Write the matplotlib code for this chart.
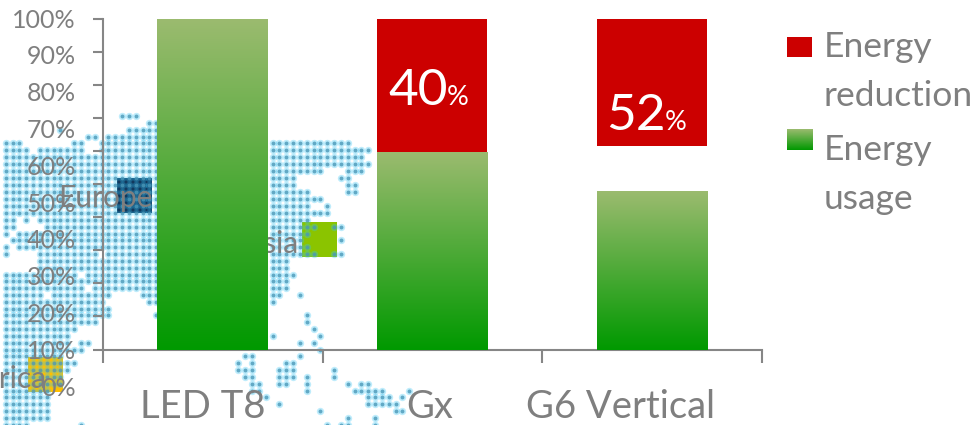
import numpy as np
import matplotlib
matplotlib.use("Agg")
import matplotlib.pyplot as plt
from matplotlib.patches import Rectangle
from matplotlib.colors import LinearSegmentedColormap
from matplotlib.transforms import ScaledTranslation

plt.rcParams['font.family'] = ['Lato', 'DejaVu Sans']

# ---- chart data ----
categories = ["LED T8", "Gx", "G6 Vertical"]
energy_usage = [100, 59.8, 48]
blank_gap = [0, 0, 13.6]
energy_reduction = [0, 40.2, 38.4]
reduction_labels = ["", "40", "52"]
y_ticks = [0, 10, 20, 30, 40, 50, 60, 70, 80, 90, 100]
y_tick_labels = [f"{v}%" for v in y_ticks]
legend_labels = ["Energy\nreduction", "Energy\nusage"]

GREY = "#7F7F7F"
AXIS = "#868686"
RED = "#CC0000"
W, H = 973, 425

# ---- decorative dot map behind the chart: pixel row -> covered x spans ----
map_rows = {
    116: [(120, 137)], 123: [(148, 157)], 130: [(58, 62), (127, 157)],
    137: [(87, 97), (107, 157)],
    143: [(0, 22), (73, 83), (97, 157), (272, 348)],
    150: [(0, 27), (38, 83), (97, 157), (272, 368)],
    157: [(0, 157), (272, 362)], 164: [(0, 157), (272, 372)],
    171: [(0, 157), (272, 322), (345, 362)],
    178: [(0, 157), (272, 295), (338, 350)],
    185: [(0, 157), (272, 295), (345, 355)],
    192: [(0, 157), (272, 308), (345, 355)],
    199: [(0, 157), (272, 320)], 206: [(0, 157), (272, 312), (325, 329)],
    213: [(0, 157), (272, 328)],
    220: [(0, 15), (27, 28), (40, 157), (272, 312)],
    227: [(0, 15), (45, 157), (272, 315), (331, 340)],
    234: [(0, 5), (18, 157), (272, 306)],
    240: [(13, 157), (272, 300), (338, 342)],
    247: [(0, 5), (20, 157), (272, 306)],
    254: [(6, 7), (40, 100), (107, 157), (272, 315), (330, 340)],
    261: [(40, 157), (272, 287)], 268: [(0, 2), (40, 157), (272, 292)],
    275: [(0, 75), (85, 157), (272, 297)],
    281: [(0, 80), (85, 157), (272, 292)],
    288: [(0, 80), (95, 157), (272, 292)],
    295: [(0, 40), (50, 108), (140, 157), (272, 285), (299, 303)],
    302: [(0, 105), (150, 157), (272, 274)],
    309: [(0, 110)], 315: [(0, 110), (155, 157), (303, 307)],
    322: [(0, 100), (303, 307)], 329: [(0, 75), (310, 314)],
    336: [(0, 70), (272, 274), (317, 321)],
    343: [(0, 70), (80, 90), (297, 301), (311, 315)],
    350: [(0, 75), (78, 82), (318, 325)],
    356: [(0, 65), (244, 252), (296, 300)],
    363: [(0, 75), (235, 239), (250, 253), (285, 298)],
    370: [(0, 70), (235, 252), (276, 298), (330, 334)],
    377: [(0, 60), (244, 252), (276, 298), (303, 307), (330, 334)],
    384: [(0, 60), (250, 258), (276, 292), (303, 312), (345, 348), (360, 368)],
    391: [(0, 50), (250, 258), (303, 312), (350, 382), (406, 410)],
    397: [(0, 50), (262, 266), (365, 390), (398, 402), (411, 415)],
    404: [(0, 50), (277, 285), (365, 395)],
    411: [(0, 50), (317, 321), (395, 402)],
    418: [(0, 50), (345, 352), (371, 375)],
    425: [(0, 27), (80, 84), (324, 328), (338, 350), (371, 380)],
}
col_x = -1.1 + 6.84 * np.arange(63)
dot_x, dot_y = [], []
for row_y, spans in map_rows.items():
    for a, b in spans:
        for cx in col_x[(col_x >= a - 1) & (col_x <= b + 1)]:
            dot_x.append(cx)
            dot_y.append(row_y)

fig = plt.figure(figsize=(W / 100, H / 100), dpi=100, facecolor="white")

# ---- background layer in pixel coordinates ----
bg = fig.add_axes([0, 0, 1, 1], zorder=0)
bg.set_xlim(0, W)
bg.set_ylim(H, 0)
bg.axis("off")
for (x0, y0, color) in [(117, 178, "#12395E"), (302, 222, "#8BC400"), (28, 357, "#FFC000")]:
    bg.add_patch(Rectangle((x0, y0), 35, 35, facecolor=color, edgecolor="none", zorder=1))
bg.scatter(dot_x, dot_y, s=28, color="#35C4F5", alpha=0.32, linewidths=0, zorder=2)
bg.scatter(dot_x, dot_y, s=8, color="#4A98B8", alpha=0.8, linewidths=0, zorder=3)
bg.text(153, 207, "Europe", fontsize=21.5, color=GREY, ha="right", va="baseline", zorder=4)
bg.text(299, 253, "Asia", fontsize=21.5, color=GREY, ha="right", va="baseline", zorder=4)
bg.text(47, 388, "Africa", fontsize=21.5, color=GREY, ha="right", va="baseline", zorder=4)

# ---- main chart ----
ax = fig.add_axes([103.3 / W, 1 - 349.5 / H, (762 - 103.3) / W, (349.5 - 19.3) / H], zorder=2)
ax.patch.set_visible(False)
x = np.arange(len(categories))
bars = ax.bar(x - 0.002, energy_usage, width=0.503, color="#50A838", linewidth=0, zorder=2)
bottoms = np.array(energy_usage) + np.array(blank_gap)
ax.bar(x - 0.002, energy_reduction, width=0.5, bottom=bottoms, color=RED, linewidth=0, zorder=2)

cmap = LinearSegmentedColormap.from_list("g", ["#9BBB6F", "#009900"])
grad = np.linspace(0, 1, 256).reshape(-1, 1)
for bar in bars:
    im = ax.imshow(grad, cmap=cmap, aspect="auto", zorder=3,
                   extent=[bar.get_x(), bar.get_x() + bar.get_width(), 0, bar.get_height()])
    im.set_clip_path(bar)

ax.set_xlim(-0.5, 2.5)
ax.set_ylim(0, 100)
for s in ("top", "right"):
    ax.spines[s].set_visible(False)
for s in ("left", "bottom"):
    ax.spines[s].set_color(AXIS)
    ax.spines[s].set_linewidth(1.5)

ax.set_yticks(y_ticks)
ax.set_yticklabels([])
ax.tick_params(axis="y", length=7.2, width=1.5, color=AXIS, direction="out")
ax.set_xticks(x)
ax.set_xticklabels(categories, fontsize=27.5, color=GREY)
ax.tick_params(axis="x", which="major", length=0, pad=28.5)
ax.set_xticks([-0.5, 0.5, 1.5, 2.5], minor=True)
ax.tick_params(axis="x", which="minor", length=9.4, width=1.5, color=AXIS, direction="out")
for lab, dx in zip(ax.get_xticklabels(), [-10, -3, -32]):
    lab.set_transform(lab.get_transform() + ScaledTranslation(dx / 100, 0, fig.dpi_scale_trans))

# value labels inside the red segments
for xi, txt, base, red_h in zip(x, reduction_labels, bottoms, energy_reduction):
    if not txt:
        continue
    y_pos = base + red_h - 26.0 if txt == "40" else base + red_h - 33.5
    x_off = -32 if txt == "40" else -33.5
    ax.annotate(txt, (xi, y_pos), xytext=(x_off, 0), textcoords="offset points",
                fontsize=37, color="white", ha="left", va="baseline", zorder=5)
    ax.annotate("%", (xi, y_pos), xytext=(x_off + 42.5, 0), textcoords="offset points",
                fontsize=19.5, color="white", ha="left", va="baseline", zorder=5)

# ---- y tick labels sit on their own, wider scale than the tick marks ----
lab_ax = fig.add_axes([0, 1 - 386 / H, 76 / W, (386 - 18) / H], zorder=3)
lab_ax.patch.set_visible(False)
for s in lab_ax.spines.values():
    s.set_visible(False)
lab_ax.set_ylim(0, 100)
lab_ax.set_xticks([])
lab_ax.set_yticks(y_ticks)
lab_ax.set_yticklabels(y_tick_labels, fontsize=18, color=GREY, ha="right")
lab_ax.tick_params(axis="y", length=0, pad=0, labelright=False, labelleft=True, left=False, right=False)
for lab in lab_ax.get_yticklabels():
    lab.set_transform(lab.get_transform() + ScaledTranslation(76 / 100, 0, fig.dpi_scale_trans))

# ---- legend ----
bg.add_patch(Rectangle((787, 37), 25, 20, facecolor=RED, edgecolor="none", zorder=5))
swatch = Rectangle((787, 129), 26, 21, facecolor="#50A838", edgecolor="none", zorder=5)
bg.add_patch(swatch)
sw = bg.imshow(grad, cmap=cmap, aspect="auto", extent=[787, 813, 150, 129], zorder=6, origin="upper")
sw.set_clip_path(swatch)
bg.set_xlim(0, W)
bg.set_ylim(H, 0)
for y_txt, label in zip([57, 160], legend_labels):
    first, second = label.split("\n")
    bg.text(823.5, y_txt, first, fontsize=25.5, color=GREY, va="baseline", ha="left", zorder=6)
    bg.text(823.5, y_txt + 48.5, second, fontsize=25.5, color=GREY, va="baseline", ha="left", zorder=6)

fig.savefig("out.png", dpi=100)
